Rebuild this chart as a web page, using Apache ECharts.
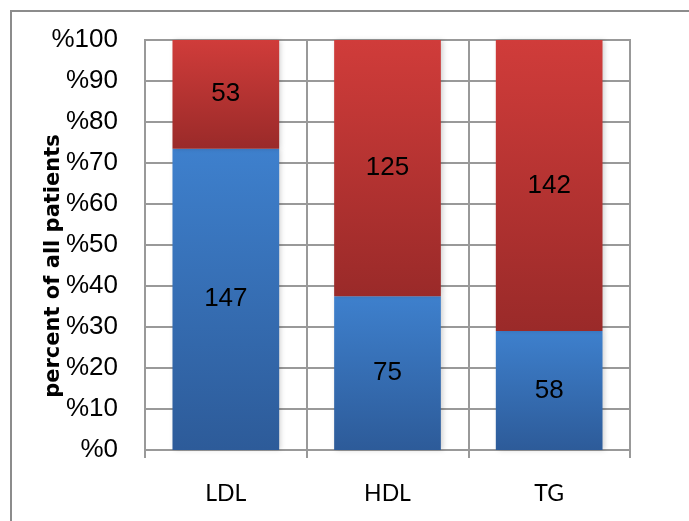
<!DOCTYPE html>
<html>
<head>
<meta charset="utf-8">
<script src="https://cdn.jsdelivr.net/npm/echarts@6/dist/echarts.min.js"></script>
<style>
  html, body { margin: 0; padding: 0; background: #fff; }
  #chart { width: 689px; height: 521px; }
</style>
</head>
<body>
<div id="chart"></div>
<script>
// Lipid categories and patient counts per group
const categories = ['LDL', 'HDL', 'TG'];
const blueCounts = [147, 75, 58];
const redCounts = [53, 125, 142];
const yTickLabels = ['%0', '%10', '%20', '%30', '%40', '%50', '%60', '%70', '%80', '%90', '%100'];

// Share of each group in its category, in percent
const totals = categories.map((_, i) => blueCounts[i] + redCounts[i]);
const bluePct = blueCounts.map((v, i) => v / totals[i] * 100);
const redPct = redCounts.map((v, i) => v / totals[i] * 100);

const gridColor = '#999999';

function vGrad(top, bottom) {
  return new echarts.graphic.LinearGradient(0, 0, 0, 1, [
    { offset: 0, color: top },
    { offset: 1, color: bottom }
  ]);
}

const labelStyle = {
  show: true,
  position: 'inside',
  color: '#000',
  fontFamily: 'Liberation Sans, Arial, sans-serif',
  fontSize: 26
};

const barShadow = {
  shadowColor: 'rgba(0,0,0,0.18)',
  shadowBlur: 5,
  shadowOffsetX: 2,
  shadowOffsetY: 0
};

const chart = echarts.init(document.getElementById('chart'), null, { renderer: 'canvas' });
chart.setOption({
  animation: false,
  backgroundColor: '#ffffff',
  grid: {
    left: 145, right: 59, top: 40, bottom: 71,
    show: true, borderColor: gridColor, borderWidth: 2, backgroundColor: 'transparent'
  },
  xAxis: {
    type: 'category',
    data: categories,
    boundaryGap: true,
    axisLine: { show: true, lineStyle: { color: gridColor, width: 2 } },
    axisTick: { show: true, length: 8, alignWithLabel: false, lineStyle: { color: gridColor, width: 2 } },
    splitLine: { show: true, lineStyle: { color: gridColor, width: 2 } },
    axisLabel: {
      margin: 32,
      color: '#000',
      fontFamily: 'Lato, Noto Sans, sans-serif',
      fontSize: 23
    }
  },
  yAxis: {
    type: 'value',
    min: 0, max: 100, interval: 10,
    axisLine: { show: true, lineStyle: { color: gridColor, width: 2 } },
    axisTick: { show: false },
    splitLine: { show: true, lineStyle: { color: gridColor, width: 2 } },
    axisLabel: {
      margin: 27,
      color: '#000',
      fontFamily: 'Liberation Sans, Arial, sans-serif',
      fontSize: 26,
      formatter: (v) => yTickLabels[Math.round(v / 10)]
    }
  },
  series: [
    {
      name: 'blue',
      type: 'bar',
      stack: 'total',
      barCategoryGap: '34%',
      data: bluePct,
      itemStyle: Object.assign({ color: vGrad('#3e80cd', '#2d5b99') }, barShadow),
      label: Object.assign({}, labelStyle, {
        formatter: (p) => String(blueCounts[p.dataIndex])
      })
    },
    {
      name: 'red',
      type: 'bar',
      stack: 'total',
      barCategoryGap: '34%',
      data: redPct,
      itemStyle: Object.assign({ color: vGrad('#d03c3a', '#9a2a29') }, barShadow),
      label: Object.assign({}, labelStyle, {
        formatter: (p) => String(redCounts[p.dataIndex])
      })
    }
  ],
  graphic: [
    {
      // outer frame, open to the right and bottom
      type: 'rect',
      shape: { x: 11, y: 11, width: 760, height: 600 },
      style: { fill: 'none', stroke: '#8c8c8c', lineWidth: 2 },
      silent: true
    },
    {
      type: 'text',
      x: 54, y: 266,
      rotation: Math.PI / 2,
      style: {
        text: 'percent of all patients',
        fill: '#000',
        font: 'bold 21px "DejaVu Sans", sans-serif',
        textAlign: 'center',
        textVerticalAlign: 'middle'
      }
    }
  ]
});
</script>
</body>
</html>
